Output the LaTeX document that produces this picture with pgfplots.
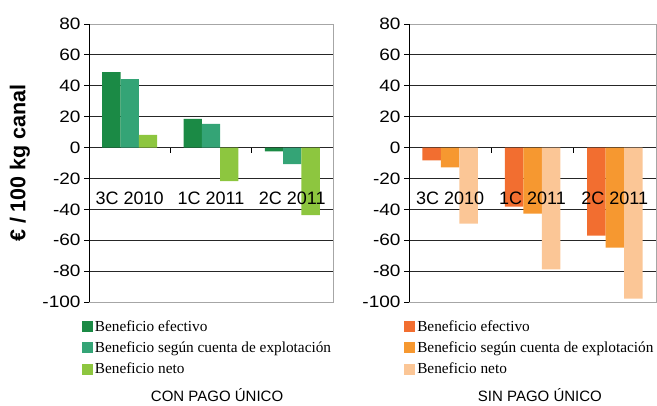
\documentclass[border=0pt]{standalone}
\usepackage{fontspec}
\setmainfont{Liberation Serif}
\setsansfont{Liberation Sans}
\newfontfamily\tickfont{Liberation Sans}[FakeStretch=1.15]
\usepackage{pgfplots}
\pgfplotsset{compat=1.18}

\definecolor{gefec}{RGB}{27,138,69}
\definecolor{gcuen}{RGB}{52,164,118}
\definecolor{gneto}{RGB}{141,198,63}
\definecolor{oefec}{RGB}{242,110,48}
\definecolor{ocuen}{RGB}{246,152,48}
\definecolor{oneto}{RGB}{251,198,150}

\pgfplotsset{
  layers/labelsontop/.define layer set={axis background,axis grid,axis ticks,axis lines,pre main,main,axis tick labels,axis descriptions,axis foreground}{
    grid style={/pgfplots/on layer=axis grid},
    tick style={/pgfplots/on layer=axis ticks},
    axis line style={/pgfplots/on layer=axis lines},
    label style={/pgfplots/on layer=axis descriptions},
    legend style={/pgfplots/on layer=axis descriptions},
    title style={/pgfplots/on layer=axis descriptions},
    ticklabel style={/pgfplots/on layer=axis tick labels},
    axis background@ style={/pgfplots/on layer=axis background},
  },
  benef/.style={
    set layers=labelsontop,
    scale only axis,
    height=278pt,
    ybar=0pt,
    xmin=-0.5, xmax=2.5,
    ymin=-100, ymax=80,
    ytick={-100,-80,...,80},
    xtick={0,1,2},
    xticklabels={3C 2010,1C 2011,2C 2011},
    x tick style={draw=none},
    ytick pos=left,
    y tick style={black, line width=0.8pt},
    tick align=outside,
    major tick length=5pt,
    ymajorgrids,
    grid style={black!85, line width=0.8pt},
    axis line style={gray!70, line width=0.8pt},
    /pgf/number format/assume math mode=true,
    yticklabel style={font=\tickfont\fontsize{16.5}{18}\selectfont},
    xticklabel style={font=\sffamily\fontsize{18}{20}\selectfont, anchor=center, yshift=109pt},
    xlabel style={font=\sffamily\fontsize{15}{17}\selectfont, anchor=center},
    legend cell align=left,
    legend style={draw=none, fill=none, anchor=north west,
      font=\fontsize{15.3}{17}\selectfont, row sep=5pt, inner sep=0pt,
      /tikz/every even column/.append style={column sep=1pt}},
    legend image code/.code={\fill[#1] (0pt,-5.5pt) rectangle (11pt,5.5pt);},
  }
}

\begin{document}
\begin{tikzpicture}
\path (0,0) rectangle (657pt,-401pt);

% con pago unico
\begin{axis}[benef,
  at={(89pt,-302pt)}, anchor=south west,
  width=244pt,
  bar width=18.3pt,
  ylabel={\bfseries € / 100 kg canal},
  ylabel style={font=\sffamily\fontsize{21.5}{23}\selectfont, at={(axis description cs:-0.283,0.5)}, anchor=center},
  xlabel={CON PAGO ÚNICO},
  xlabel style={at={(axis description cs:0.525,-0.335)}},
  legend style={at={(axis description cs:-0.03,-0.058)}},
]
\addplot[fill=gefec, draw=none] coordinates {(0,48.8) (1,18.5) (2,-2.5)};
\addlegendentry{Beneficio efectivo}
\addplot[fill=gcuen, draw=none] coordinates {(0,44.3) (1,15.4) (2,-10.8)};
\addlegendentry{Beneficio según cuenta de explotación}
\addplot[fill=gneto, draw=none] coordinates {(0,8.2) (1,-21.8) (2,-43.8)};
\addlegendentry{Beneficio neto}
\draw[black, line width=0.8pt] (rel axis cs:0,0) -- (rel axis cs:0,1);
\pgfplotsinvokeforeach{0.5,1.5,2.5}{\draw[black, line width=0.8pt] (axis cs:#1,0) -- ([yshift=-5pt]axis cs:#1,0);}
\end{axis}

% sin pago unico
\begin{axis}[benef,
  at={(409pt,-302pt)}, anchor=south west,
  width=247pt,
  bar width=18.5pt,
  xlabel={SIN PAGO ÚNICO},
  xlabel style={at={(axis description cs:0.53,-0.335)}},
  legend style={at={(axis description cs:-0.02,-0.058)}},
]
\addplot[fill=oefec, draw=none] coordinates {(0,-8.3) (1,-38.2) (2,-57)};
\addlegendentry{Beneficio efectivo}
\addplot[fill=ocuen, draw=none] coordinates {(0,-12.8) (1,-42.7) (2,-64.8)};
\addlegendentry{Beneficio según cuenta de explotación}
\addplot[fill=oneto, draw=none] coordinates {(0,-49.2) (1,-78.9) (2,-97.8)};
\addlegendentry{Beneficio neto}
\draw[black, line width=0.8pt] (rel axis cs:0,0) -- (rel axis cs:0,1);
\pgfplotsinvokeforeach{0.5,1.5,2.5}{\draw[black, line width=0.8pt] (axis cs:#1,0) -- ([yshift=-5pt]axis cs:#1,0);}
\end{axis}
\end{tikzpicture}
\end{document}
